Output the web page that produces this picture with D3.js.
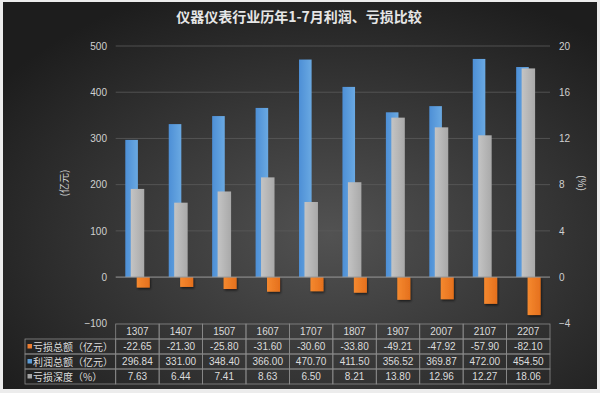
<!DOCTYPE html>
<html>
<head>
<meta charset="utf-8">
<script src="https://cdn.jsdelivr.net/npm/d3@7"></script>
<style>
  body { margin: 0; background: #ececec; }
  text { font-family: "Liberation Sans", "Noto Sans CJK SC", sans-serif; }
</style>
</head>
<body>
<div id="chart"></div>
<script>
var categories = ["1307", "1407", "1507", "1607", "1707", "1807", "1907", "2007", "2107", "2207"];
var lossTotal = [-22.65, -21.30, -25.80, -31.60, -30.60, -33.80, -49.21, -47.92, -57.90, -82.10];
var profitTotal = [296.84, 331.00, 348.40, 366.00, 470.70, 411.50, 356.52, 369.87, 472.00, 454.50];
var lossDepth = [7.63, 6.44, 7.41, 8.63, 6.50, 8.21, 13.80, 12.96, 12.27, 18.06];
var leftTicks = [-100, 0, 100, 200, 300, 400, 500];
var rightTicks = [-4, 0, 4, 8, 12, 16, 20];
var rowLabels = ["亏损总额（亿元）", "利润总额（亿元）", "亏损深度（%）"];
var rowValues = [lossTotal, profitTotal, lossDepth];
var rowDigits = [2, 2, 2];

function init() {
    var w = 600;
    var h = 393;
    var left = 115.7, right = 550;
    var top = 46, bottom = 323.3;

    var svg = d3.select("#chart")
        .append("svg")
        .attr("width", w)
        .attr("height", h);

    var defs = svg.append("defs");
    var bg = defs.append("radialGradient").attr("id", "bg")
        .attr("cx", "55%").attr("cy", "60%").attr("r", "68%");
    bg.append("stop").attr("offset", "0%").attr("stop-color", "#525252");
    bg.append("stop").attr("offset", "100%").attr("stop-color", "#1d1d1d");

    function grad(id, c1, c2) {
        var g = defs.append("linearGradient").attr("id", id)
            .attr("x1", 0).attr("y1", 0).attr("x2", 1).attr("y2", 0);
        g.append("stop").attr("offset", "0%").attr("stop-color", c1);
        g.append("stop").attr("offset", "100%").attr("stop-color", c2);
    }
    grad("blue", "#4d8fd6", "#6aa9e2");
    grad("gray", "#c4c4c4", "#a9a9a9");
    grad("orange", "#f5892f", "#e5701d");

    var shadow = defs.append("filter").attr("id", "shadow")
        .attr("x", "-30%").attr("y", "-30%").attr("width", "160%").attr("height", "160%");
    shadow.append("feDropShadow").attr("dx", 1).attr("dy", 1.5)
        .attr("stdDeviation", 1).attr("flood-color", "#000").attr("flood-opacity", 0.6);

    // panel
    svg.append("rect")
        .attr("x", 3).attr("y", 2)
        .attr("width", 594).attr("height", 387)
        .attr("fill", "url(#bg)");

    var x = d3.scaleBand()
        .domain(categories)
        .range([left, right]);
    var bw = x.bandwidth();

    var y = d3.scaleLinear().domain([-100, 500]).range([bottom, top]);
    var y2 = d3.scaleLinear().domain([-4, 20]).range([bottom, top]);

    // gridlines
    svg.selectAll("line.grid")
        .data(leftTicks.filter(function (d) { return d > 0; }))
        .enter()
        .append("line")
        .attr("class", "grid")
        .attr("x1", left).attr("x2", right)
        .attr("y1", function (d) { return y(d); })
        .attr("y2", function (d) { return y(d); })
        .attr("stroke", "#5c5c5c")
        .attr("stroke-width", 0.8);

    // axes (labels only)
    var axL = svg.append("g")
        .attr("transform", "translate(107,0)")
        .call(d3.axisLeft(y).tickValues(leftTicks).tickSize(0).tickPadding(0));
    axL.select(".domain").remove();
    axL.selectAll("text").attr("fill", "#d0d0d0").style("font-size", "10px");

    var axR = svg.append("g")
        .attr("transform", "translate(559,0)")
        .call(d3.axisRight(y2).tickValues(rightTicks).tickSize(0).tickPadding(0));
    axR.select(".domain").remove();
    axR.selectAll("text").attr("fill", "#d0d0d0").style("font-size", "10px");

    // axis titles
    svg.append("text")
        .attr("transform", "translate(68,183) rotate(-90)")
        .attr("text-anchor", "middle")
        .attr("fill", "#cfcfcf")
        .style("font-size", "10px")
        .style("font-family", "'Noto Sans CJK SC', sans-serif")
        .text("(亿元)");
    svg.append("text")
        .attr("transform", "translate(578,183) rotate(90)")
        .attr("text-anchor", "middle")
        .attr("fill", "#cfcfcf")
        .style("font-size", "10px")
        .text("(%)");

    // profit bars
    svg.selectAll("rect.profit")
        .data(profitTotal)
        .enter()
        .append("rect")
        .attr("class", "profit")
        .attr("x", function (d, i) { return x(categories[i]) + bw * 0.221; })
        .attr("width", bw * 0.29)
        .attr("y", function (d) { return y(d); })
        .attr("height", function (d) { return y(0) - y(d); })
        .attr("fill", "url(#blue)");

    // depth bars (right axis)
    svg.selectAll("rect.depth")
        .data(lossDepth)
        .enter()
        .append("rect")
        .attr("class", "depth")
        .attr("x", function (d, i) { return x(categories[i]) + bw * 0.347; })
        .attr("width", bw * 0.31)
        .attr("y", function (d) { return y2(d); })
        .attr("height", function (d) { return y2(0) - y2(d); })
        .attr("fill", "url(#gray)");

    // loss bars
    svg.selectAll("rect.loss")
        .data(lossTotal)
        .enter()
        .append("rect")
        .attr("class", "loss")
        .attr("x", function (d, i) { return x(categories[i]) + bw * 0.484; })
        .attr("width", bw * 0.30)
        .attr("y", y(0))
        .attr("height", function (d) { return y(d) - y(0); })
        .attr("fill", "url(#orange)")
        .attr("filter", "url(#shadow)");

    // zero line
    svg.append("line")
        .attr("x1", left).attr("x2", right)
        .attr("y1", y(0)).attr("y2", y(0))
        .attr("stroke", "#9a9a9a")
        .attr("stroke-width", 1);

    // title
    svg.append("text")
        .attr("x", 299).attr("y", 22)
        .attr("text-anchor", "middle")
        .attr("fill", "#e6e6e6")
        .style("font-size", "14px")
        .style("font-weight", "bold")
        .style("font-family", "'Noto Sans CJK SC', sans-serif")
        .text("仪器仪表行业历年1-7月利润、亏损比较");

    // data table
    var rowH = 15;
    var tTop = bottom + 0.7;
    var tb = svg.append("g");
    var border = "#8a8a8a";

    // header row
    categories.forEach(function (c) {
        tb.append("rect")
            .attr("x", x(c)).attr("y", tTop)
            .attr("width", bw).attr("height", rowH)
            .attr("fill", "none").attr("stroke", border).attr("stroke-width", 0.8);
        tb.append("text")
            .attr("x", x(c) + bw / 2).attr("y", tTop + 11)
            .attr("text-anchor", "middle")
            .attr("fill", "#dcdcdc")
            .style("font-size", "10px")
            .text(c);
    });

    var swatch = ["#ed7d31", "#5b9bd5", "#a5a5a5"];
    rowLabels.forEach(function (lab, r) {
        var ry = tTop + rowH * (r + 1);
        tb.append("rect")
            .attr("x", 25).attr("y", ry)
            .attr("width", left - 25).attr("height", rowH)
            .attr("fill", "none").attr("stroke", border).attr("stroke-width", 0.8);
        tb.append("rect")
            .attr("x", 27.5).attr("y", ry + 5)
            .attr("width", 4.5).attr("height", 4.5)
            .attr("fill", swatch[r]);
        tb.append("text")
            .attr("x", 33).attr("y", ry + 11.5)
            .attr("fill", "#dcdcdc")
            .style("font-size", "10px")
            .style("font-family", "'Noto Sans CJK SC', sans-serif")
            .text(lab);
        categories.forEach(function (c, i) {
            tb.append("rect")
                .attr("x", x(c)).attr("y", ry)
                .attr("width", bw).attr("height", rowH)
                .attr("fill", "none").attr("stroke", border).attr("stroke-width", 0.8);
            tb.append("text")
                .attr("x", x(c) + bw / 2).attr("y", ry + 11)
                .attr("text-anchor", "middle")
                .attr("fill", "#dcdcdc")
                .style("font-size", "10px")
                .text(rowValues[r][i].toFixed(rowDigits[r]));
        });
    });
}

window.onload = init;
</script>
</body>
</html>
